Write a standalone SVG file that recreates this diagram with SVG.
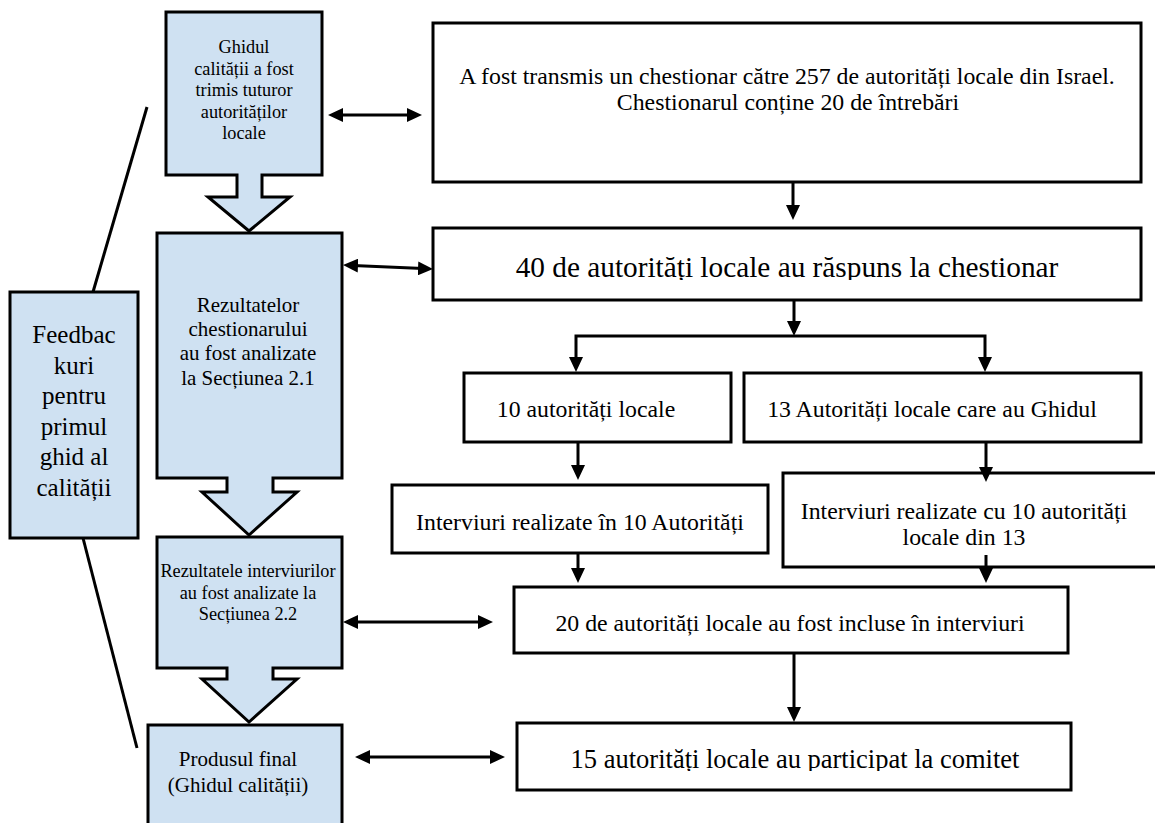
<svg xmlns="http://www.w3.org/2000/svg" width="1155" height="823" viewBox="0 0 1155 823" font-family="'Liberation Serif', 'DejaVu Serif', serif">
  <style>
    .bg { fill: #ffffff; }
    .step { fill: #cfe1f2; stroke: #000; stroke-width: 3; stroke-linejoin: miter; }
    .box { fill: #ffffff; stroke: #000; stroke-width: 3; }
    .conn { fill: none; stroke: #000; stroke-width: 3; }
    .brace { fill: none; stroke: #000; stroke-width: 3; }
    .t { font-family: 'Liberation Serif', 'DejaVu Serif', serif; fill: #000; text-anchor: middle; }
    .s18 { font-size: 18.3px; }
    .s21 { font-size: 21px; }
    .s24 { font-size: 23.8px; }
    .s25 { font-size: 25px; }
    .s26 { font-size: 26.5px; }
    .s29 { font-size: 29.3px; }
  </style>
  <defs>
    <marker id="head" viewBox="0 0 15 14" markerWidth="15" markerHeight="14" refX="5" refY="7" orient="auto-start-reverse" markerUnits="userSpaceOnUse">
      <path d="M0,0 L15,7 L0,14 Z" fill="#000"/>
    </marker>
    <!-- text frames that cut off descenders below the first line -->
    <clipPath id="clip40"><rect x="433" y="228" width="708" height="52"/></clipPath>
    <clipPath id="clip15"><rect x="517" y="723" width="554" height="48"/></clipPath>
  </defs>

  <rect class="bg" x="0" y="0" width="1155" height="823"/>

  <!-- left column: process stages with down-arrow callouts -->
  <g id="stage-guide-sent">
    <path class="step" d="M166,12 H322 V175 H262 V197 H290 L249,231 L208,197 H237 V175 H166 Z"/>
    <text class="t s18" x="244" y="53">Ghidul</text>
    <text class="t s18" x="244" y="74.5">calității a fost</text>
    <text class="t s18" x="244" y="96">trimis tuturor</text>
    <text class="t s18" x="244" y="117.5">autorităților</text>
    <text class="t s18" x="244" y="139">locale</text>
  </g>

  <g id="stage-questionnaire-analysis">
    <path class="step" d="M157,233 H342 V478 H273 V492 H297 L249,535 L202,492 H227 V478 H157 Z"/>
    <text class="t s21" x="248" y="312">Rezultatelor</text>
    <text class="t s21" x="248" y="336">chestionarului</text>
    <text class="t s21" x="248" y="360">au fost analizate</text>
    <text class="t s21" x="248" y="385">la Secțiunea 2.1</text>
  </g>

  <g id="stage-interview-analysis">
    <path class="step" d="M157,537 H342 V668 H273 V679 H297 L249,722 L202,679 H227 V668 H157 Z"/>
    <text class="t s18" x="248" y="577">Rezultatele interviurilor</text>
    <text class="t s18" x="248" y="599">au fost analizate la</text>
    <text class="t s18" x="248" y="620">Secțiunea 2.2</text>
  </g>

  <g id="stage-final-product">
    <rect class="step" x="148" y="725" width="194" height="110"/>
    <text class="t s21" x="238" y="766">Produsul final</text>
    <text class="t s21" x="238" y="792">(Ghidul calității)</text>
  </g>

  <g id="feedback">
    <path class="brace" d="M147,107 L93,292"/>
    <path class="brace" d="M83,538 L137,748"/>
    <rect class="step" x="10" y="292" width="128" height="246"/>
    <text class="t s25" x="74" y="343">Feedbac</text>
    <text class="t s25" x="74" y="373.5">kuri</text>
    <text class="t s25" x="74" y="404">pentru</text>
    <text class="t s25" x="74" y="434.5">primul</text>
    <text class="t s25" x="74" y="465">ghid al</text>
    <text class="t s25" x="74" y="495.5">calității</text>
  </g>

  <!-- right column: data collection steps -->
  <g id="questionnaire-sent">
    <rect class="box" x="433" y="23" width="708" height="159"/>
    <text class="t s24" x="787" y="84">A fost transmis un chestionar către 257 de autorități locale din Israel.</text>
    <text class="t s24" x="788" y="110">Chestionarul conține 20 de întrebări</text>
  </g>

  <g id="responses-40">
    <rect class="box" x="433" y="228" width="708" height="72"/>
    <text class="t s29" x="787" y="277" clip-path="url(#clip40)">40 de autorități locale au răspuns la chestionar</text>
  </g>

  <g id="authorities-10">
    <rect class="box" x="464" y="373" width="267" height="69"/>
    <text class="t s24" x="586" y="417">10 autorități locale</text>
  </g>

  <g id="authorities-13">
    <rect class="box" x="744" y="373" width="397" height="69"/>
    <text class="t s24" x="932" y="417">13 Autorități locale care au Ghidul</text>
  </g>

  <g id="interviews-10">
    <rect class="box" x="392" y="485" width="376" height="68"/>
    <text class="t s24" x="580" y="530">Interviuri realizate în 10 Autorități</text>
  </g>

  <g id="interviews-10-of-13">
    <rect class="box" x="783" y="473" width="380" height="94"/>
    <text class="t s24" x="964" y="519">Interviuri realizate cu 10 autorități</text>
    <text class="t s24" x="964" y="545">locale din 13</text>
  </g>

  <g id="interviews-20">
    <rect class="box" x="514" y="587" width="554" height="66"/>
    <text class="t s24" x="790" y="631">20 de autorități locale au fost incluse în interviuri</text>
  </g>

  <g id="committee-15">
    <rect class="box" x="517" y="723" width="554" height="67"/>
    <text class="t s26" x="795" y="768" clip-path="url(#clip15)">15 autorități locale au participat la comitet</text>
  </g>

  <!-- connectors -->
  <g id="connectors">
    <path class="conn" d="M338,115 H412" marker-start="url(#head)" marker-end="url(#head)"/>
    <path class="conn" d="M353,265.4 L423,268.6" marker-start="url(#head)" marker-end="url(#head)"/>
    <path class="conn" d="M353,622 H483" marker-start="url(#head)" marker-end="url(#head)"/>
    <path class="conn" d="M365,757 H495" marker-start="url(#head)" marker-end="url(#head)"/>

    <path class="conn" d="M793,182 V210" marker-end="url(#head)"/>
    <path class="conn" d="M794,300 V326" marker-end="url(#head)"/>
    <path class="conn" d="M576,362 V336 H985 V362" marker-start="url(#head)" marker-end="url(#head)"/>
    <path class="conn" d="M578,442 V470" marker-end="url(#head)"/>
    <path class="conn" d="M986,442 V472" marker-end="url(#head)"/>
    <path class="conn" d="M578,553 V573" marker-end="url(#head)"/>
    <path class="conn" d="M986,555 V573" marker-end="url(#head)"/>
    <path class="conn" d="M794,653 V712" marker-end="url(#head)"/>
  </g>
</svg>
